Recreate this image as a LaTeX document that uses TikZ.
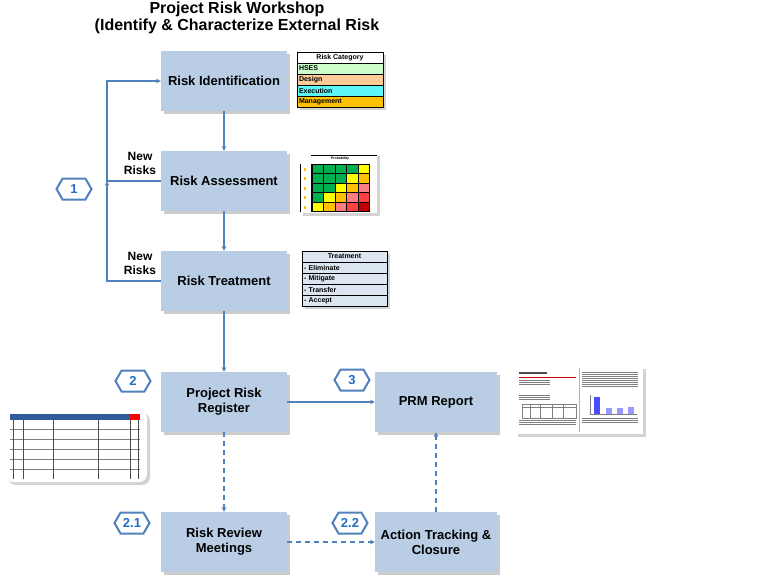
\documentclass[tikz,border=0pt]{standalone}
\usepackage{fontspec}
\setmainfont{Liberation Sans}
\usetikzlibrary{shapes.symbols,shadows}
\definecolor{boxblue}{HTML}{B9CDE5}
\definecolor{lineblue}{HTML}{4F81BD}
\definecolor{hexblue}{HTML}{1F6FC5}
\definecolor{catgreen}{HTML}{CCFFCC}
\definecolor{catorange}{HTML}{FFCC99}
\definecolor{catcyan}{HTML}{5DF7F7}
\definecolor{catgold}{HTML}{FFC000}
\definecolor{trtfill}{HTML}{DCE6F1}
\definecolor{mg}{HTML}{00B050}
\definecolor{my}{HTML}{FFFF00}
\definecolor{mo}{HTML}{FFC000}
\definecolor{mp}{HTML}{FF7C80}
\definecolor{mr}{HTML}{FF4040}
\definecolor{md}{HTML}{C00000}
\definecolor{sheetblue}{HTML}{2E5C9A}
\begin{document}
\begin{tikzpicture}
[x=1pt,y=-1pt,
  boxdecorate/.style={fill=boxblue,minimum width=126pt,minimum height=60pt,align=center,%
    font=\fontsize{13}{15}\selectfont\bfseries,%
    drop shadow={shadow xshift=3pt,shadow yshift=-3pt,opacity=0.4}},%
  arrowdecorate/.style={->,>=stealth,draw=lineblue,line width=1.1pt},%
  dashdecorate/.style={arrowdecorate,dash pattern=on 5pt off 4pt},%
  hexdecorate/.style={shape=signal,signal to=west and east,signal pointer angle=120,%
    draw=lineblue,line width=2pt,fill=white,minimum width=35pt,minimum height=21pt,%
    inner sep=1pt,text=hexblue,font=\fontsize{13}{13}\selectfont\bfseries},%
  notedecorate/.style={align=center,font=\fontsize{12}{14}\selectfont\bfseries},%
  cellhead/.style={draw,minimum height=11pt,inner sep=0pt,font=\fontsize{7}{7}\selectfont\bfseries},%
  cellrow/.style={draw,minimum height=11pt,inner ysep=0pt,inner xsep=2pt,align=left,%
    font=\fontsize{7}{7}\selectfont\bfseries},%
  shadowdecorate/.style={fill=white,drop shadow={shadow xshift=3pt,shadow yshift=-3pt,opacity=0.35}}]
\useasboundingbox (0,0) rectangle (763,581);
% title
\node (title) at (237,18) [align=center,font=\fontsize{16}{17}\selectfont\bfseries]
  {Project Risk Workshop\\(Identify \& Characterize External Risk};
% main boxes
\node (riskid) at (224,81) [boxdecorate] {Risk Identification};
\node (riskass) at (224,181) [boxdecorate] {Risk Assessment};
\node (risktreat) at (224,281) [boxdecorate] {Risk Treatment};
\node (register) at (224,402) [boxdecorate] {Project Risk\\Register};
\node (report) at (436,402) [boxdecorate,minimum width=122pt] {PRM Report};
\node (review) at (224,542) [boxdecorate] {Risk Review\\Meetings};
\node (tracking) at (436,542) [boxdecorate,minimum width=122pt] {Action Tracking \&\\Closure};
% step markers
\node (hex1) at (74,189) [hexdecorate] {1};
\node (hex2) at (133,381) [hexdecorate] {2};
\node (hex3) at (352,380) [hexdecorate] {3};
\node (hex21) at (132,523) [hexdecorate] {2.1};
\node (hex22) at (350,523) [hexdecorate] {2.2};
% new risks notes
\node (new1) at (140,163) [notedecorate] {New\\Risks};
\node (new2) at (140,263) [notedecorate] {New\\Risks};
\coordinate (loopa) at (107,181);
% edges or lines
\path
(riskid) edge[arrowdecorate] (riskass)
(riskass) edge[arrowdecorate] (risktreat)
(risktreat) edge[arrowdecorate] (register)
(register) edge[arrowdecorate] (report)
(register) edge[dashdecorate] (review)
(review) edge[dashdecorate] (tracking)
(tracking) edge[dashdecorate] (report);
\draw[arrowdecorate] (riskass.west) -- (loopa) |- (riskid.west);
\draw[arrowdecorate] (risktreat.west) -| (loopa);
% risk category table
\path[shadowdecorate] (297,52) rectangle (383,107);
\node (cat0) at (340,57.5) [cellhead,minimum width=86pt] {Risk Category};
\foreach \lab/\col [count=\i] in {HSES/catgreen,Design/catorange,Execution/catcyan,Management/catgold}
  \node (cat\i) at (340,57.5+11*\i) [cellrow,fill=\col,text width=82pt] {\lab};
% risk matrix
\path[shadowdecorate] (300,153) rectangle (377,213);
\draw (311,155) -- (377,155);
\node (prob) at (340,159) [font=\fontsize{3.5}{4}\selectfont\bfseries,inner sep=0pt] {Probability};
\draw (300,164) -- (300,212) (311,164) -- (311,212);
\foreach \row [count=\r] in {{mg,mg,mg,mg,my},{mg,mg,mg,my,mo},{mg,mg,my,mo,mp},{mg,my,mo,mp,mr},{my,mo,mp,mr,md}}
  \foreach \c [count=\k] in \row
    \draw[fill=\c,line width=0.6pt] (300.5+11.5*\k,154.5+9.5*\r) rectangle ++(11.5,9.5);
\foreach \r in {1,...,5}
  \fill[mo] (304,158+9.5*\r) rectangle ++(2,3);
% treatment table
\path[shadowdecorate] (302,251) rectangle (387,306);
\node (trt0) at (344.5,256.5) [cellhead,fill=trtfill,minimum width=85pt] {Treatment};
\foreach \lab [count=\i] in {Eliminate,Mitigate,Transfer,Accept}
  \node (trt\i) at (344.5,256.5+11*\i) [cellrow,fill=trtfill,text width=81pt] {- \lab};
% risk register sheet
\path[shadowdecorate,rounded corners=8pt] (5,410) rectangle (147,482);
\fill[sheetblue] (10,414) rectangle (140,420);
\fill[red] (130,414) rectangle (140,420);
\foreach \yy in {429,439,449,459,469}
  \draw[gray,line width=0.6pt] (10,\yy) -- (140,\yy);
\foreach \xx in {13,23,53,98,130,138}
  \draw[black!70,line width=0.6pt] (\xx,420) -- (\xx,479);
% report pages
\path[shadowdecorate] (515,366) rectangle (643,434);
\draw[gray!60] (579,368) -- (579,432);
\fill[black!70] (519,372) rectangle (547,374);
\draw[red!80!black,line width=0.8pt] (519,377) -- (576,377);
\foreach \yy in {380,382,384,395,397,399}
  \draw[gray,line width=0.4pt] (519,\yy) -- (550,\yy);
\draw[gray,line width=0.4pt] (522,404) rectangle (576,418);
\foreach \xx in {530,540,552,563}
  \draw[gray,line width=0.4pt] (\xx,404) -- (\xx,418);
\draw[gray,line width=0.4pt] (522,407) -- (576,407);
\foreach \yy in {420,422,424}
  \draw[gray,line width=0.4pt] (519,\yy) -- (576,\yy);
\foreach \yy in {372,374,376,378,380,382,384,386}
  \draw[gray,line width=0.4pt] (582,\yy) -- (638,\yy);
\fill[blue!70] (594,397) rectangle (600,414);
\fill[blue!40] (606,408) rectangle (612,414);
\fill[blue!40] (617,408) rectangle (623,414);
\fill[blue!40] (628,407) rectangle (634,414);
\draw[gray,line width=0.4pt] (590,395) -- (590,414) -- (637,414);
\foreach \yy in {418,420,422}
  \draw[gray,line width=0.4pt] (582,\yy) -- (638,\yy);
\end{tikzpicture}
\end{document}
